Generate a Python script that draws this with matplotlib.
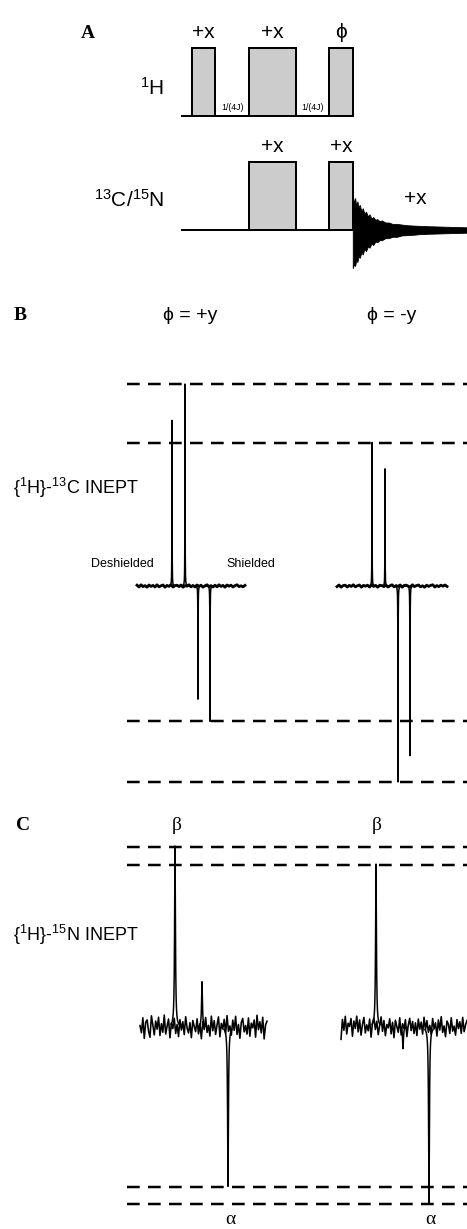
import numpy as np
import matplotlib
matplotlib.use('Agg')
import matplotlib.pyplot as plt
from matplotlib.patches import Rectangle

plt.rcParams['font.family'] = ['Liberation Sans', 'DejaVu Sans']
plt.rcParams['mathtext.fontset'] = 'custom'
plt.rcParams['mathtext.rm'] = 'Liberation Sans'
plt.rcParams['mathtext.it'] = 'Liberation Sans:italic'
plt.rcParams['mathtext.bf'] = 'Liberation Sans:bold'

# ------------------------------------------------------------------ data
# Panel A: INEPT pulse sequence (time in units of a 90-degree pulse)
h_pulse_start = [0.0, 2.45, 5.9]
h_pulse_len = [1.0, 2.0, 1.0]
h_pulse_phase = ['+x', '+x', 'ϕ']
x_pulse_start = [2.45, 5.9]
x_pulse_len = [2.0, 1.0]
x_pulse_phase = ['+x', '+x']
delay_mid = [1.72, 5.17]
delay_text = '1/(4J)'
acq_phase = '+x'
fid_t = [6.9, 6.95, 7.0, 7.05, 7.1, 7.15, 7.2, 7.27, 7.33, 7.4, 7.47, 7.55, 7.62, 7.7,
         7.78, 7.87, 7.95, 8.05, 8.15, 8.3, 8.45, 8.6, 8.8, 9.0, 9.25, 9.5, 9.8, 10.2,
         10.7, 11.2, 11.8]
fid_upper = [0.51, 0.40, 0.47, 0.36, 0.42, 0.33, 0.37, 0.28, 0.32, 0.24, 0.27, 0.20, 0.23,
             0.17, 0.19, 0.15, 0.16, 0.13, 0.14, 0.11, 0.11, 0.09, 0.09, 0.08, 0.07, 0.065,
             0.06, 0.055, 0.05, 0.045, 0.04]
fid_lower = [0.56, 0.50, 0.53, 0.44, 0.47, 0.38, 0.41, 0.33, 0.36, 0.28, 0.31, 0.24, 0.26,
             0.20, 0.22, 0.17, 0.18, 0.15, 0.15, 0.12, 0.12, 0.10, 0.10, 0.08, 0.075, 0.07,
             0.06, 0.055, 0.05, 0.045, 0.04]

# Panel B: {1H}-13C INEPT, peak positions (points along spectrum) and intensities
b_shift = [35, 48, 61, 73]
b_phi_plus_y = [82, 100, -56, -67]
b_phi_minus_y = [71, 58, -97, -84]
b_noise_left = [0.4, -0.5, 0.6, -0.3, 0.2, -0.6, 0.5, -0.2, 0.3, -0.5, 0.6, -0.4, 0.1, 0.5,
                -0.6, 0.3, -0.2, 0.6, -0.5, 0.2, 0.4, -0.3, 0.5, -0.6, 0.2, -0.1, 0.6, -0.4,
                0.3, -0.5, 0.5, -0.2, 0.4, -0.6, 0.1, 0.6, -0.3, 0.2, -0.5, 0.4, -0.4, 0.6,
                -0.2, 0.3, -0.6, 0.5, -0.1, 0.4, -0.5, 0.2, 0.6, -0.3, 0.1, -0.4, 0.3]
b_noise_right = [-0.3, 0.5, -0.6, 0.2, 0.4, -0.5, 0.3, -0.2, 0.6, -0.4, 0.1, 0.5, -0.6, 0.3,
                 -0.1, 0.4, -0.5, 0.6, -0.2, 0.3, -0.6, 0.4, 0.2, -0.3, 0.5, -0.5, 0.1, 0.6,
                 -0.4, 0.2, -0.2, 0.5, -0.6, 0.3, 0.4, -0.1, -0.5, 0.6, -0.3, 0.2, 0.5, -0.4,
                 0.1, -0.6, 0.4, -0.2, 0.3, 0.6, -0.5, 0.2, -0.3, 0.4, -0.1, 0.5, -0.2]

# Panel C: {1H}-15N INEPT
c_shift = [35, 62, 88]
c_phi_plus_y = [100, 25, -88]
c_phi_minus_y = [90, -12, -97]
c_noise_left = [0.8, -3.2, 5.1, -6.3, 2.7, 3.9, -2.3, -5.7, 6.2, 1.1, -4.4, 3.3, -1.2, 5.4,
                -4.7, 1.8, -2.9, 6.6, -3.9, 0.5, 4.4, -6.0, 2.3, -0.9, 4.8, -3.6, 1.4, -5.3,
                4.1, -1.7, 2.9, -4.2, 5.7, -0.6, -3.3, 2.4, -5.9, 3.6, 0.3, -2.6, 4.5, -3.8,
                1.7, -6.5, 3.0, -1.4, 5.3, -3.0, 0.9, -5.0, 6.0, -2.1, 3.5, -4.1, 1.2, 5.6,
                -5.4, 2.0, -1.1, 4.2, -3.5, 6.3, -2.4, 0.6, -4.5, 3.8, -1.8, 5.9, -4.1, 1.4,
                -6.2, 2.6, 4.7, -2.7, 0.8, -3.9, 5.0, -5.1, 2.1, -0.5, 3.9, -5.6, 6.5, -1.5,
                2.9, -3.3, 5.4, -6.6, 1.2, 3.2]
c_noise_right = [-6.8, 4.2, -1.8, 5.9, -3.9, 2.1, 0.3, 4.7, -5.1, 3.3, -0.8, 6.0, -2.7, 3.9,
                 -4.5, 1.5, 5.3, -3.3, 1.2, -2.1, 4.4, -5.6, 2.4, 5.0, -1.4, 3.2, -4.2, 0.8,
                 5.6, -2.4, 3.6, -4.8, 1.4, -0.5, 4.5, -3.8, 2.6, -5.9, 3.8, 0.2, -2.9, 5.1,
                 -4.4, 1.8, -0.9, 4.1, -5.3, 1.1, 4.8, -2.0, 3.0, -3.6, 2.3, -4.7, 4.4, -1.2,
                 2.7, -3.9, 5.4, -1.5, 3.5, -2.9, 0.9, -4.2, 4.7, -1.1, 2.3, -5.0, 3.9, -1.7,
                 5.7, -3.0, 0.6, -5.4, 3.3, 1.5, -3.6, 5.1, -2.3, 0.5, -4.5, 4.1, -0.9, 2.9,
                 -3.5, 5.3, -2.6, 1.2, 3.6]

# ------------------------------------------------------------------ figure
W, H = 467, 1229
fig = plt.figure(figsize=(W / 100, H / 100), dpi=100)
ax = fig.add_axes([0, 0, 1, 1])
ax.set_xlim(0, W)
ax.set_ylim(H, 0)
ax.axis('off')

PX = 72 / 100  # points per pixel

# ---------------- Panel A
t0_px, t_scale = 192, 23.3
def tx(t):
    return t0_px + np.asarray(t) * t_scale

pulse_h = 68
edge_lw = 2.0 * PX
base_h, base_x = 116, 230

ax.plot([tx(-0.47), tx(h_pulse_start[-1] + h_pulse_len[-1])], [base_h, base_h],
        color='black', lw=edge_lw, solid_capstyle='butt', zorder=2)
ax.plot([tx(-0.47), tx(x_pulse_start[-1] + x_pulse_len[-1])], [base_x, base_x],
        color='black', lw=edge_lw, solid_capstyle='butt', zorder=2)

for starts, lens, phases, yb, ylab in [(h_pulse_start, h_pulse_len, h_pulse_phase, base_h, 32),
                                       (x_pulse_start, x_pulse_len, x_pulse_phase, base_x, 147)]:
    for s, l, ph in zip(starts, lens, phases):
        ax.add_patch(Rectangle((tx(s), yb - pulse_h), l * t_scale, pulse_h,
                               facecolor='#cccccc', edgecolor='black', lw=edge_lw, zorder=3))
        ax.text(tx(s + l / 2), ylab, ph, ha='center', va='center', fontsize=15,
                family=['Liberation Sans', 'DejaVu Sans'])

for m in delay_mid:
    ax.text(tx(m), 108, delay_text, ha='center', va='center', fontsize=6.3)

ft = tx(fid_t)
ax.fill_between(ft, base_x - np.array(fid_upper) * pulse_h, base_x + np.array(fid_lower) * pulse_h,
                color='black', lw=0.6, zorder=4)
ax.plot([ft[-1] - 60, ft[-1]], [base_x, base_x], color='black', lw=2.5 * PX, zorder=4)
ax.text(415, 198, acq_phase, ha='center', va='center', fontsize=15)

ax.text(88, 33, 'A', ha='center', va='center', fontsize=14, fontweight='bold',
        family='Liberation Serif')
ax.text(164, 88, r'$^{1}$H', ha='right', va='center', fontsize=15)
ax.text(164, 200, r'$^{13}$C/$^{15}$N', ha='right', va='center', fontsize=15)

# ---------------- helpers for spectra
dash_lw = 2.5 * PX
def dashed(y):
    ax.plot([127, W], [y, y], color='black', lw=dash_lw,
            linestyle=(0, (12.7 / 2.5, 8.3 / 2.5)), solid_capstyle='butt', zorder=1)

def spectrum(x0, width, base, scale, shifts, intens, noise, gamma, lw, noise_lw):
    nx = x0 + np.linspace(0, width, len(noise))
    ax.plot(nx, base - np.array(noise) * scale, color='black', lw=noise_lw, zorder=3)
    for s, I in zip(shifts, intens):
        xx = np.linspace(s - 4, s + 4, 801)
        yy = I / (1 + ((xx - s) / gamma) ** 2)
        ax.plot(x0 + xx, base - yy * scale, color='black', lw=lw, zorder=3)

# ---------------- Panel B
bB, sB = 586, 2.02
for lev in [max(b_phi_plus_y), max(b_phi_minus_y), min(b_phi_plus_y), min(b_phi_minus_y)]:
    dashed(bB - lev * sB)
spectrum(137, 108, bB, sB, b_shift, b_phi_plus_y, b_noise_left, 0.12, 1.5 * PX, 2.8 * PX)
spectrum(337, 110, bB, sB, b_shift, b_phi_minus_y, b_noise_right, 0.12, 1.5 * PX, 2.8 * PX)

ax.text(20, 316, 'B', ha='center', va='center', fontsize=14, fontweight='bold',
        family='Liberation Serif')
ax.text(190, 316, 'ϕ = +y', ha='center', va='center', fontsize=14)
ax.text(392, 316, 'ϕ = -y', ha='center', va='center', fontsize=14)
ax.text(13, 488, r'{$^{1}$H}-$^{13}$C INEPT', ha='left', va='center', fontsize=13)
ax.text(122, 564, 'Deshielded', ha='center', va='center', fontsize=9)
ax.text(251, 564, 'Shielded', ha='center', va='center', fontsize=9)

# ---------------- Panel C
bC, sC = 1027, 1.81
for lev in [max(c_phi_plus_y), max(c_phi_minus_y), min(c_phi_plus_y), min(c_phi_minus_y)]:
    dashed(1028 - lev * sC)
spectrum(140, 127, bC, sC, c_shift, c_phi_plus_y, c_noise_left, 0.5, 1.5 * PX, 1.6 * PX)
spectrum(341, 126, bC, sC, c_shift, c_phi_minus_y, c_noise_right, 0.5, 1.5 * PX, 1.6 * PX)

ax.text(23, 825, 'C', ha='center', va='center', fontsize=14, fontweight='bold',
        family='Liberation Serif')
for xb in [177, 377]:
    ax.text(xb, 826, 'β', ha='center', va='center', fontsize=14, family='Liberation Serif')
for xa in [230, 430]:
    ax.text(xa, 1219, 'α', ha='center', va='center', fontsize=14, family='Liberation Serif')
ax.text(13, 935, r'{$^{1}$H}-$^{15}$N INEPT', ha='left', va='center', fontsize=13)

fig.savefig('out.png', dpi=100, facecolor='white')
